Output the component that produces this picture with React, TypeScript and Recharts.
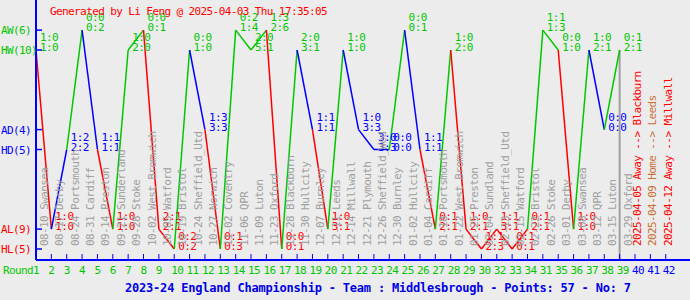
import React from 'react';
import { ScatterChart, Scatter, XAxis, YAxis, ReferenceLine } from 'recharts';

const FONT = '"DejaVu Sans Mono", "Liberation Mono", monospace';
const GREEN = '#00c800';
const BLUE = '#0000ff';
const RED = '#ff0000';
const GRAY = '#a0a0a0';
const BROWN = '#c87137';

// round number printed under each slot (round 31 was played late)
const roundLabels = [
  1, 2, 3, 4, 5, 6, 7, 8, 9, 10, 11, 12, 13, 14, 15, 16, 17, 18, 19, 20, 21,
  22, 23, 24, 25, 26, 27, 28, 29, 30, 32, 33, 34, 31, 35, 36, 37, 38, 39, 40, 41, 42,
];

const matchDates = [
  '08-10', '08-17', '08-24', '08-31', '09-14', '09-21', '09-28', '10-02', '10-05', '10-19',
  '10-24', '10-27', '11-02', '11-06', '11-09', '11-23', '11-28', '11-30', '12-07', '12-11',
  '12-14', '12-21', '12-26', '12-30', '01-02', '01-04', '01-18', '01-22', '01-25', '02-04',
  '02-13', '02-15', '02-22', '02-26', '03-01', '03-08', '03-12', '03-15', '03-29',
];

const opponents = [
  'Swansea', 'Derby', 'Portsmouth', 'Cardiff', 'Preston', 'Sunderland', 'Stoke', 'West Bromwich',
  'Watford', 'Bristol', 'Sheffield_Utd', 'Norwich', 'Coventry', 'QPR', 'Luton', 'Oxford',
  'Blackburn', 'Hullcity', 'Burnley', 'Leeds', 'Millwall', 'Plymouth', 'Sheffield_Wed', 'Burnley',
  'Hullcity', 'Cardiff', 'Portsmouth', 'West Bromwich', 'Preston', 'Sundland', 'Sheffield_Utd',
  'Watford', 'Bristol', 'Stoke', 'Derby', 'Swansea', 'QPR', 'Luton', 'Oxford',
];

const results = [
  'HW', 'AL', 'HD', 'AW', 'HD', 'AL', 'HW', 'AW', 'AL', 'HL',
  'HW', 'AD', 'HL', 'AW', 'HW', 'AW', 'HL', 'HW', 'AD', 'AL',
  'HW', 'AD', 'HD', 'HD', 'AW', 'HD', 'AL', 'HW', 'AL', 'HL',
  'AL', 'HL', 'AL', 'AW', 'HW', 'AL', 'HW', 'AD', 'HW',
];

const halfTime = [
  '1:0', '1:0', '1:2', '0:0', '1:1', '1:0', '1:0', '0:0', '2:1', '0:2',
  '0:0', '1:3', '0:1', '0:2', '2:0', '1:3', '0:0', '2:0', '1:1', '1:0',
  '1:0', '1:0', '3:0', '0:0', '0:0', '1:1', '0:1', '1:0', '1:0', '1:1',
  '1:1', '0:1', '0:1', '1:1', '0:0', '1:0', '1:0', '0:0', '0:1',
];

const fullTime = [
  '1:0', '1:0', '2:2', '0:2', '1:1', '1:0', '2:0', '0:1', '2:1', '0:2',
  '1:0', '3:3', '0:3', '1:4', '5:1', '2:6', '0:1', '3:1', '1:1', '3:1',
  '1:0', '3:3', '3:3', '0:0', '0:1', '1:1', '2:1', '2:0', '2:1', '2:3',
  '3:1', '0:1', '2:1', '1:3', '1:0', '1:0', '2:1', '0:0', '2:1',
];

const futureDates = ['2025-04-05', '2025-04-09', '2025-04-12'];
const futureVenues = ['Away', 'Home', 'Away'];
const futureOpponents = ['Blackburn', 'Leeds', 'Millwall'];

const levelNames = ['AW', 'HW', 'AD', 'HD', 'AL', 'HL'];
const LEVEL: Record<string, number> = { HL: 0, AL: 1, HD: 5, AD: 6, HW: 10, AW: 11 };

const resultColor = (r: string) => (r[1] === 'W' ? GREEN : r[1] === 'D' ? BLUE : RED);
const levelColor = (name: string) => resultColor(name);

const played = results.length;
const points = results.map((r, i) => ({
  pos: i + 1,
  level: LEVEL[r],
  result: r,
  ht: halfTime[i],
  ft: fullTime[i],
}));
const positions = roundLabels.map((_, i) => i + 1);

const Y_MIN = -0.553;
const Y_MAX = 12.513;

const txt = { fontFamily: FONT, fontSize: 11, letterSpacing: -0.6 };

const ScoreLabel = (props: any) => {
  const { cx, cy, payload } = props;
  if (cx == null || cy == null) return null;
  const c = resultColor(payload.result);
  return (
    <g>
      <text x={cx + 4} y={cy - 9} fill={c} style={txt}>{payload.ht}</text>
      <text x={cx + 4} y={cy + 1} fill={c} style={txt}>{payload.ft}</text>
    </g>
  );
};

const XTick = (props: any) => {
  const { x, y, payload } = props;
  const i = payload.value - 1;
  const isPlayed = i < played;
  let side: React.ReactNode = null;
  if (isPlayed) {
    const tx = x + 12;
    side = (
      <text x={tx} y={246} transform={`rotate(-90 ${tx} 246)`} fill={GRAY} style={txt}>
        {`${matchDates[i]} ${opponents[i]}`}
      </text>
    );
  } else {
    const k = i - played;
    const tx = x + 6;
    side = (
      <text x={tx} y={246} transform={`rotate(-90 ${tx} 246)`}
        fill={futureVenues[k] === 'Home' ? BROWN : RED} style={txt}>
        {`${futureDates[k]} ${futureVenues[k]} --> ${futureOpponents[k]}`}
      </text>
    );
  }
  return (
    <g>
      {side}
      <line x1={x} x2={x} y1={y - 6} y2={y} stroke={BLUE} strokeWidth={1} />
      {i === 0 && (
        <text x={x - 3} y={y + 14} textAnchor="end" fill={GREEN} style={txt}>Round</text>
      )}
      <text x={x - 3} y={y + 14} fill={isPlayed ? GREEN : BLUE} style={txt}>
        {roundLabels[i]}
      </text>
    </g>
  );
};

const YTick = (props: any) => {
  const { x, y, payload } = props;
  const name = levelNames.find((n) => LEVEL[n] === payload.value) || '';
  const count = results.filter((r) => r === name).length;
  return (
    <g>
      <line x1={x} x2={x + 6} y1={y} y2={y} stroke={BLUE} strokeWidth={1.5} />
      <text x={1} y={y + 4} fill={levelColor(name)} style={txt}>{`${name}(${count})`}</text>
    </g>
  );
};

export default function App() {
  const last = points[points.length - 1];
  return (
    <div style={{ position: 'absolute', left: 0, top: 0, width: 690, height: 300, background: '#ececec' }}>
      <ScatterChart width={690} height={300} margin={{ top: 0, right: 0, bottom: 0, left: 0 }}>
        <XAxis
          dataKey="pos"
          type="number"
          domain={[1, 43.58]}
          allowDataOverflow
          ticks={positions}
          interval={0}
          height={40}
          tickSize={0}
          tickMargin={0}
          tickLine={false}
          axisLine={{ stroke: BLUE, strokeWidth: 2 }}
          tick={<XTick />}
        />
        <YAxis
          dataKey="level"
          type="number"
          domain={[Y_MIN, Y_MAX]}
          allowDataOverflow
          ticks={levelNames.map((n) => LEVEL[n])}
          interval={0}
          width={36}
          tickSize={0}
          tickMargin={0}
          tickLine={false}
          axisLine={{ stroke: BLUE, strokeWidth: 2 }}
          tick={<YTick />}
        />
        <ReferenceLine
          segment={[{ x: last.pos, y: last.level }, { x: last.pos, y: Y_MIN }]}
          stroke={GRAY}
          strokeWidth={2}
        />
        {points.slice(1).map((p, k) => (
          <ReferenceLine
            key={`seg-${k}`}
            segment={[{ x: points[k].pos, y: points[k].level }, { x: p.pos, y: p.level }]}
            stroke={resultColor(p.result)}
            strokeWidth={1.5}
          />
        ))}
        <Scatter data={points} shape={<ScoreLabel />} isAnimationActive={false} />
      </ScatterChart>
      <svg width={690} height={300} style={{ position: 'absolute', left: 0, top: 0, pointerEvents: 'none' }}>
        <text x={50} y={15} fill={RED} style={txt}>Generated by Li Feng @ 2025-04-03 Thu 17:35:05</text>
        <text x={125} y={292} fill="#0000e6"
          style={{ fontFamily: FONT, fontSize: 12, fontWeight: 'bold', letterSpacing: -0.2 }}>
          2023-24 England Championship - Team : Middlesbrough - Points: 57 - No: 7
        </text>
      </svg>
    </div>
  );
}
